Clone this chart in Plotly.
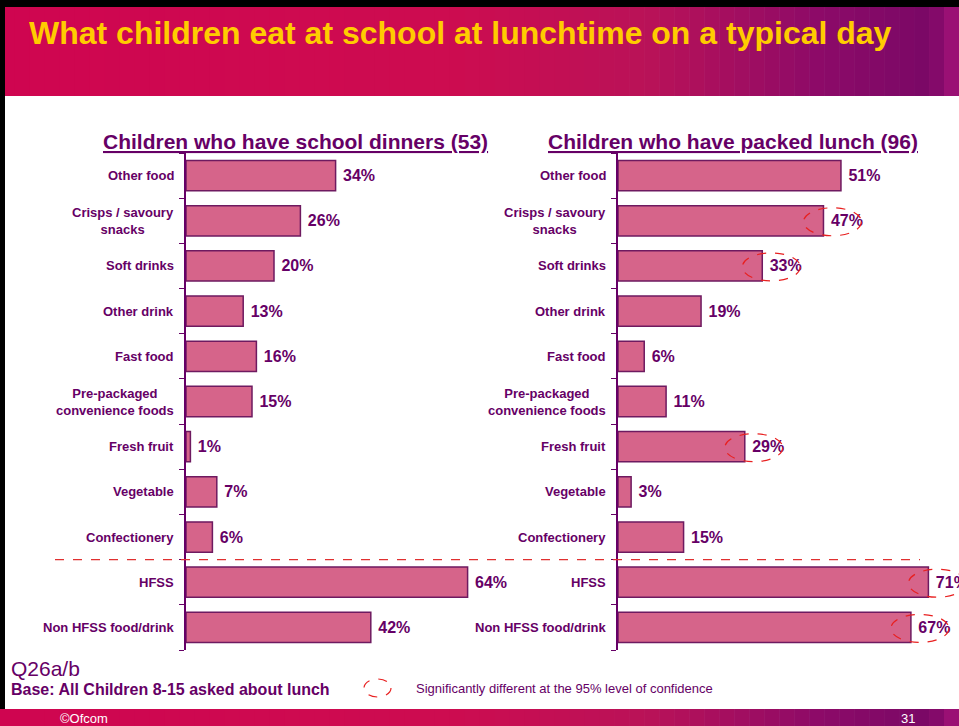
import plotly.graph_objects as go

W, H = 959, 726

categories = ["Other food", "Crisps / savoury<br>snacks", "Soft drinks", "Other drink", "Fast food",
              "Pre-packaged<br>convenience foods", "Fresh fruit", "Vegetable", "Confectionery",
              "HFSS", "Non HFSS food/drink"]
school_dinners = [34, 26, 20, 13, 16, 15, 1, 7, 6, 64, 42]
packed_lunch = [51, 47, 33, 19, 6, 11, 29, 3, 15, 71, 67]
packed_significant = [False, True, True, False, False, False, True, False, False, True, True]

title_left = "Children who have school dinners (53)"
title_right = "Children who have packed lunch (96)"

PURPLE = "#660066"
BAR = "#d6648a"
BAR_LINE = "#6e1a60"

def px(x):
    return x / W

def py(y):
    return 1 - y / H

L_DOM = [px(186), px(494)]
R_DOM = [px(618), px(959)]
Y_DOM = [py(650), py(153)]

fig = go.Figure()
ypos = list(range(len(categories)))

for vals, xa, ya in [(school_dinners, "x", "y"), (packed_lunch, "x2", "y2")]:
    fig.add_trace(go.Bar(
        x=vals, y=ypos, orientation="h", xaxis=xa, yaxis=ya,
        width=0.67,
        marker=dict(color=BAR, line=dict(color=BAR_LINE, width=1.5)),
        texttemplate="<b> %{x}%</b>", textposition="outside",
        textfont=dict(family="Arial, Liberation Sans", size=16, color=PURPLE),
        constraintext="none", cliponaxis=False, showlegend=False, hoverinfo="skip",
    ))

axis_y = dict(domain=Y_DOM, range=[len(categories) - 0.5, -0.5], showticklabels=False,
              showline=True, linecolor=PURPLE, linewidth=1.5, ticks="outside", ticklen=5,
              tickcolor=PURPLE, tickvals=[i - 0.5 for i in range(len(categories) + 1)],
              showgrid=False, zeroline=False, fixedrange=True)
fig.update_layout(
    width=W, height=H, margin=dict(l=0, r=0, t=0, b=0),
    paper_bgcolor="white", plot_bgcolor="rgba(0,0,0,0)",
    xaxis=dict(domain=L_DOM, range=[0, 70], visible=False),
    xaxis2=dict(domain=R_DOM, range=[0, 78], visible=False),
    yaxis=dict(anchor="x", **axis_y),
    yaxis2=dict(anchor="x2", **axis_y),
    font=dict(family="Arial, Liberation Sans"),
)

shapes = []
annotations = []

# header / footer gradient
def lerp(c1, c2, t):
    return tuple(int(round(a + (b - a) * t)) for a, b in zip(c1, c2))

stops = [(0, (207, 5, 80)), (450, (205, 12, 80)), (650, (185, 18, 88)), (820, (140, 10, 104)),
         (930, (122, 8, 102)), (959, (165, 18, 120))]

def grad_color(x):
    for (x0, c0), (x1, c1) in zip(stops[:-1], stops[1:]):
        if x0 <= x <= x1:
            return "rgb(%d,%d,%d)" % lerp(c0, c1, (x - x0) / (x1 - x0))
    return "rgb(%d,%d,%d)" % stops[-1][1]

n = 64
for i in range(n):
    xa, xb = W * i / n, W * (i + 1) / n + 0.6
    col = grad_color((xa + xb) / 2)
    shapes.append(dict(type="rect", xref="paper", yref="paper", x0=px(xa), x1=px(xb),
                       y0=py(96), y1=py(6), fillcolor=col, line=dict(width=0), layer="below"))
    shapes.append(dict(type="rect", xref="paper", yref="paper", x0=px(xa), x1=px(xb),
                       y0=py(726), y1=py(709), fillcolor=col, line=dict(width=0), layer="below"))

# black borders
shapes.append(dict(type="rect", xref="paper", yref="paper", x0=0, x1=px(959), y0=py(7), y1=1,
                   fillcolor="black", line=dict(width=0)))
shapes.append(dict(type="rect", xref="paper", yref="paper", x0=0, x1=px(5), y0=py(709), y1=1,
                   fillcolor="black", line=dict(width=0)))

# separator
sep = categories.index("HFSS") - 0.5
shapes.append(dict(type="line", xref="paper", yref="y", x0=px(55), x1=px(920), y0=sep, y1=sep,
                   line=dict(color="#e03030", width=1.2, dash="dash")))

# significance ellipses
for i, (v, s) in enumerate(zip(packed_lunch, packed_significant)):
    if s:
        shapes.append(dict(type="circle", xref="x2", yref="y2", xsizemode="pixel", ysizemode="pixel",
                           xanchor=v, x0=-20, x1=38, yanchor=i, y0=-15, y1=13,
                           line=dict(color="#e82020", width=1.2, dash="dash")))

# legend ellipse
shapes.append(dict(type="circle", xref="paper", yref="paper", x0=px(364), x1=px(391),
                   y0=py(697), y1=py(679), line=dict(color="#e82020", width=1.2, dash="dash")))

# category labels
for dom, yref in [(L_DOM, "y"), (R_DOM, "y2")]:
    for i, c in enumerate(categories):
        annotations.append(dict(text="<b>%s</b>" % c, xref="paper", yref=yref, x=dom[0] - px(10), y=i,
                                xanchor="right", yanchor="middle", align="center", showarrow=False,
                                font=dict(size=13, color=PURPLE)))

# subplot titles
annotations.append(dict(text="<b><u>%s</u></b>" % title_left, xref="paper", yref="paper", x=px(295),
                        y=py(141), xanchor="center", yanchor="middle", showarrow=False,
                        font=dict(size=21, color=PURPLE)))
annotations.append(dict(text="<b><u>%s</u></b>" % title_right, xref="paper", yref="paper", x=px(733),
                        y=py(141), xanchor="center", yanchor="middle", showarrow=False,
                        font=dict(size=21, color=PURPLE)))

# main title
annotations.append(dict(text="<b>What children eat at school at lunchtime on a typical day</b>",
                        xref="paper", yref="paper", x=px(27), y=py(33), xanchor="left", yanchor="middle",
                        showarrow=False, font=dict(size=32, color="#ffcc00")))

# footer texts
annotations.append(dict(text="Q26a/b", xref="paper", yref="paper", x=px(9), y=py(668), xanchor="left",
                        yanchor="middle", showarrow=False, font=dict(size=21, color=PURPLE)))
annotations.append(dict(text="<b>Base: All Children 8-15 asked about lunch</b>", xref="paper", yref="paper",
                        x=px(9), y=py(689), xanchor="left", yanchor="middle", showarrow=False,
                        font=dict(size=16, color=PURPLE)))
annotations.append(dict(text="Significantly different at the 95% level of confidence", xref="paper",
                        yref="paper", x=px(414), y=py(688), xanchor="left", yanchor="middle",
                        showarrow=False, font=dict(size=13, color=PURPLE)))
annotations.append(dict(text="©Ofcom", xref="paper", yref="paper", x=px(58), y=py(718), xanchor="left",
                        yanchor="middle", showarrow=False, font=dict(size=13, color="white")))
annotations.append(dict(text="31", xref="paper", yref="paper", x=px(917), y=py(718), xanchor="right",
                        yanchor="middle", showarrow=False, font=dict(size=13, color="white")))

fig.update_layout(shapes=shapes, annotations=annotations)
fig.write_html("out.html", config={"displayModeBar": False},
               post_script="document.body.style.margin='0';document.body.style.overflow='hidden';")
